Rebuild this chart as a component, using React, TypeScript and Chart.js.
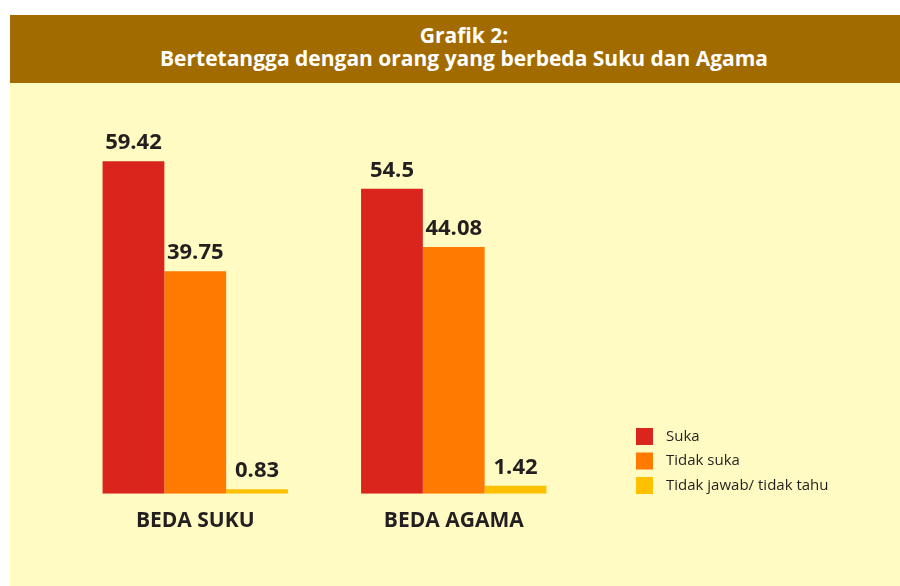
import React, { useEffect, useRef } from "react";
import { Chart, registerables } from "chart.js";

Chart.register(...registerables);

const categories = ["BEDA SUKU", "BEDA AGAMA"];
const seriesNames = ["Suka", "Tidak suka", "Tidak jawab/ tidak tahu"];
const suka = [59.42, 54.5];
const tidakSuka = [39.75, 44.08];
const tidakJawab = [0.83, 1.42];
const seriesColors = ["#DA251D", "#FF7A00", "#FFC000"];
const titleLines = ["Grafik 2:", "Bertetangga dengan orang yang berbeda Suku dan Agama"];

const TEXT = "#231F20";
const FONT = "'Open Sans', 'DejaVu Sans', sans-serif";

const valueLabels = {
  id: "valueLabels",
  afterDatasetsDraw(chart: any) {
    const ctx = chart.ctx;
    ctx.save();
    ctx.fillStyle = TEXT;
    ctx.font = `bold 22px ${FONT}`;
    ctx.textAlign = "center";
    ctx.textBaseline = "alphabetic";
    chart.data.datasets.forEach((ds: any, i: number) => {
      const meta = chart.getDatasetMeta(i);
      meta.data.forEach((bar: any, j: number) => {
        ctx.fillText(String(ds.data[j]), bar.x, bar.y - 12);
      });
    });
    ctx.restore();
  },
};

const sideLegend = {
  id: "sideLegend",
  afterDraw(chart: any) {
    const ctx = chart.ctx;
    ctx.save();
    ctx.font = `15px ${FONT}`;
    ctx.textBaseline = "middle";
    ctx.textAlign = "left";
    chart.data.datasets.forEach((ds: any, i: number) => {
      const y = 428 + i * 24.5;
      ctx.fillStyle = ds.backgroundColor;
      ctx.fillRect(636, y, 17, 17);
      ctx.fillStyle = TEXT;
      ctx.fillText(ds.label, 666, y + 8.5);
    });
    ctx.restore();
  },
};

export default function App() {
  const ref = useRef<HTMLCanvasElement>(null);
  useEffect(() => {
    if (!ref.current) return;
    const values = [suka, tidakSuka, tidakJawab];
    const chart = new Chart(ref.current, {
      type: "bar",
      data: {
        labels: categories,
        datasets: seriesNames.map((name, i) => ({
          label: name,
          data: values[i],
          backgroundColor: seriesColors[i],
          borderWidth: 0,
          categoryPercentage: 0.717,
          barPercentage: 1,
        })),
      },
      options: {
        responsive: false,
        animation: false,
        devicePixelRatio: 1,
        layout: { padding: { left: 66, right: 317, top: 158, bottom: 37 } },
        plugins: { legend: { display: false }, tooltip: { enabled: false }, title: { display: false } },
        scales: {
          x: {
            grid: { display: false, drawTicks: false },
            border: { display: false },
            ticks: { color: TEXT, font: { family: FONT, size: 21, weight: "bold" }, padding: 15 },
          },
          y: {
            display: false,
            min: 0,
            max: 60,
          },
        },
      },
      plugins: [valueLabels, sideLegend],
    });
    return () => chart.destroy();
  }, []);

  return (
    <div style={{ position: "absolute", left: 0, top: 0, width: 900, height: 586, background: "#fff", overflow: "hidden" }}>
      <div style={{ position: "absolute", left: 10, top: 15, width: 890, height: 571, background: "#FFFBC2" }} />
      <div
        style={{
          position: "absolute",
          left: 10,
          top: 15,
          width: 890,
          height: 68,
          background: "#A26B00",
          color: "#fff",
          fontFamily: FONT,
          fontWeight: 700,
          fontSize: 21,
          lineHeight: "23px",
          textAlign: "center",
          boxSizing: "border-box",
          paddingLeft: 18,
          paddingTop: 9,
        }}
      >
        <div>{titleLines[0]}</div>
        <div>{titleLines[1]}</div>
      </div>
      <canvas ref={ref} width={900} height={586} style={{ position: "absolute", left: 0, top: 0, width: 900, height: 586 }} />
    </div>
  );
}
